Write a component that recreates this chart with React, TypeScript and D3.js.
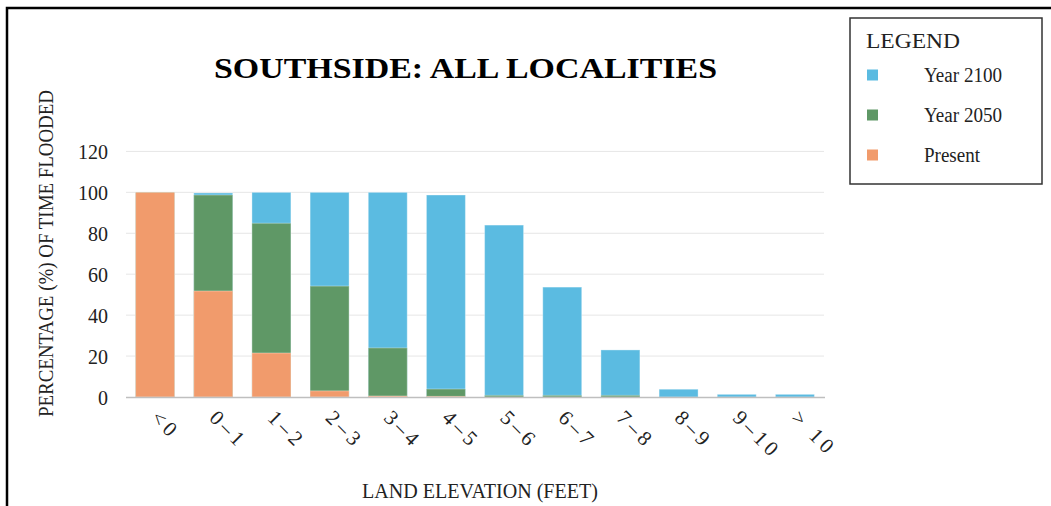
import React from 'react';
import * as d3 from 'd3';

const categories = ['<0', '0–1', '1–2', '2–3', '3–4', '4–5', '5–6', '6–7', '7–8', '8–9', '9–10', '> 10'];
const year2100 = [100, 99.7, 100, 100, 100, 98.7, 84, 53.7, 23, 3.8, 1.3, 1.3];
const year2050 = [100, 98.7, 84.9, 54.2, 24, 3.9, 0.8, 0.8, 0.8, 0, 0, 0];
const present = [100, 51.8, 21.5, 3, 0.5, 0.3, 0, 0, 0, 0, 0, 0];
const yTicks = [0, 20, 40, 60, 80, 100, 120];

const series = [
  { name: 'Year 2100', values: year2100, color: '#5BBBE1' },
  { name: 'Year 2050', values: year2050, color: '#5F9866' },
  { name: 'Present', values: present, color: '#F19B6C' },
];

const width = 1051;
const height = 506;
const serif = '"Liberation Serif", "Times New Roman", serif';

const App = () => {
  const x = d3.scaleBand().domain(categories).range([126, 824]).paddingInner(0.33).paddingOuter(0.165);
  const y = d3.scaleLinear().domain([0, 120]).range([397, 151.4]);

  return (
    <svg width={width} height={height} style={{ position: 'absolute', left: 0, top: 0, background: '#fff' }}>
      <rect x={7} y={8} width={1100} height={600} fill="none" stroke="#000" strokeWidth={2.5} />

      {/* title */}
      <text x={214} y={78} fontFamily={serif} fontWeight="bold" fontSize={30} textLength={503} lengthAdjust="spacingAndGlyphs">
        SOUTHSIDE: ALL LOCALITIES
      </text>

      {/* grid */}
      {yTicks.map((t) => (
        <g key={t}>
          {t > 0 && <line x1={126} x2={824} y1={y(t)} y2={y(t)} stroke="#e6e6e6" strokeWidth={1} />}
          <text x={108} y={y(t) + 7.5} textAnchor="end" fontFamily={serif} fontSize={22} fill="#222" textLength={t > 0 ? (t >= 100 ? 30 : 20) : 10} lengthAdjust="spacingAndGlyphs">
            {t}
          </text>
        </g>
      ))}

      {/* bars, drawn overlapping: 2100 at back, present at front */}
      {series.map((s) => (
        <g key={s.name}>
          {categories.map((c, i) =>
            s.values[i] > 0 ? (
              <rect
                key={c}
                x={x(c)}
                y={y(s.values[i])}
                width={x.bandwidth()}
                height={y(0) - y(s.values[i])}
                fill={s.color}
                stroke="rgba(255,255,255,0.35)"
                strokeWidth={1}
              />
            ) : null
          )}
        </g>
      ))}

      <line x1={126} x2={825} y1={y(0) + 0.5} y2={y(0) + 0.5} stroke="#bfbfbf" strokeWidth={1.5} />

      {/* x tick labels */}
      {categories.map((c) => (
        <text
          key={c}
          transform={`translate(${x(c) + x.bandwidth() / 2 - 5},${419}) rotate(45)`}
          fontFamily={serif}
          fontSize={21}
          letterSpacing={4}
          fill="#222"
        >
          {c}
        </text>
      ))}

      {/* axis titles */}
      <text x={362} y={498} fontFamily={serif} fontSize={21} fill="#222" textLength={236} lengthAdjust="spacingAndGlyphs">
        LAND ELEVATION (FEET)
      </text>
      <text
        transform="translate(53,417) rotate(-90)"
        fontFamily={serif}
        fontSize={21}
        fill="#222"
        textLength={327}
        lengthAdjust="spacingAndGlyphs"
      >
        PERCENTAGE (%) OF TIME FLOODED
      </text>

      {/* legend */}
      <rect x={850} y={18} width={192} height={166} fill="#fff" stroke="#333" strokeWidth={1.5} />
      <text x={866} y={48} fontFamily={serif} fontSize={22} fill="#222" textLength={94} lengthAdjust="spacingAndGlyphs">
        LEGEND
      </text>
      {series.map((s, i) => (
        <g key={s.name}>
          <rect x={867} y={69.5 + i * 40} width={11} height={11} fill={s.color} />
          <text
            x={924}
            y={82 + i * 40}
            fontFamily={serif}
            fontSize={20}
            fill="#222"
            textLength={s.name === 'Present' ? 56 : 78}
            lengthAdjust="spacingAndGlyphs"
          >
            {s.name}
          </text>
        </g>
      ))}
    </svg>
  );
};

export default App;
